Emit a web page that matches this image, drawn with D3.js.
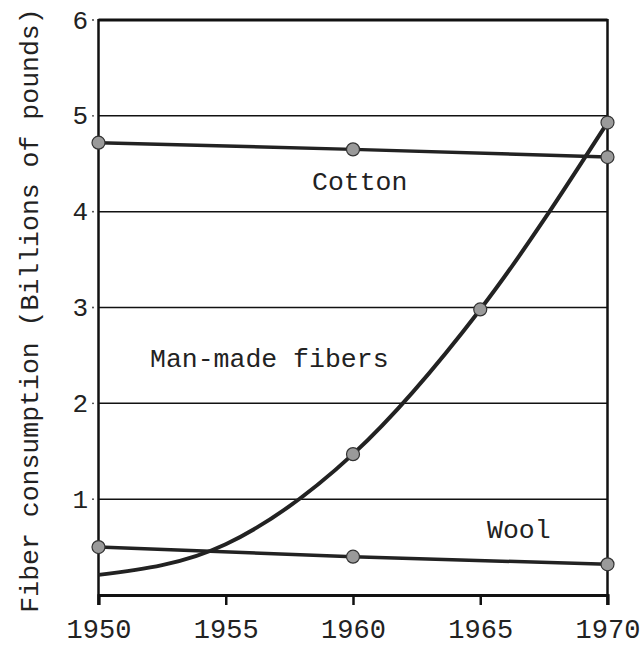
<!DOCTYPE html>
<html>
<head>
<meta charset="utf-8">
<script src="https://cdn.jsdelivr.net/npm/d3@7"></script>
<style>
  body { margin: 0; background: #fff; }
  text { font-family: "Liberation Mono", "DejaVu Sans Mono", monospace; fill: #222; }
</style>
</head>
<body>
<div id="chart"></div>
<script>
// data (billions of pounds)
var years = [1950, 1960, 1970];
var cotton = [4.72, 4.65, 4.57];
var wool = [0.50, 0.40, 0.32];
var manMadeYears = [1950, 1955, 1960, 1965, 1970];
var manMade = [0.21, 0.53, 1.47, 2.98, 4.93];
var manMadeMarked = [1960, 1965, 1970];
var xTicks = [1950, 1955, 1960, 1965, 1970];
var yTicks = [1, 2, 3, 4, 5, 6];

var width = 642,
  height = 652;

var svg = d3.select("#chart")
  .append("svg")
  .attr("width", width)
  .attr("height", height);

var x = d3.scaleLinear().domain([1950, 1970]).range([98.5, 607.5]);
var y = d3.scaleLinear().domain([0, 6]).range([595, 20]);

// horizontal rules
svg.selectAll(".grid")
  .data(yTicks)
  .enter().append("line")
  .attr("class", "grid")
  .attr("x1", x(1950))
  .attr("x2", x(1970))
  .attr("y1", function(d){ return y(d); })
  .attr("y2", function(d){ return y(d); })
  .attr("stroke", "#111")
  .attr("stroke-width", function(d){ return d == 6 ? 3 : 1.5; });

// y tick labels with the little dot
svg.selectAll(".ylab")
  .data(yTicks)
  .enter().append("text")
  .attr("class", "ylab")
  .attr("x", 88)
  .attr("y", function(d){ return y(d); })
  .attr("dy", "0.33em")
  .attr("text-anchor", "end")
  .attr("font-size", 26)
  .text(function(d){ return d; });

svg.selectAll(".ydot")
  .data(yTicks)
  .enter().append("circle")
  .attr("class", "ydot")
  .attr("cx", 93)
  .attr("cy", function(d){ return y(d); })
  .attr("r", 0.9)
  .attr("fill", "#333");

// frame: left, right
svg.append("line")
  .attr("x1", x(1950)).attr("x2", x(1950))
  .attr("y1", y(6) - 1).attr("y2", y(0) + 10)
  .attr("stroke", "#111").attr("stroke-width", 2.5);
svg.append("line")
  .attr("x1", x(1970)).attr("x2", x(1970))
  .attr("y1", y(6) - 1).attr("y2", y(0) + 10)
  .attr("stroke", "#111").attr("stroke-width", 2.5);

// x axis
var xAxis = d3.axisBottom(x)
  .tickValues(xTicks)
  .tickSize(10)
  .tickPadding(14)
  .tickFormat(d3.format("d"));

var gx = svg.append("g")
  .attr("transform", "translate(0," + y(0) + ")")
  .call(xAxis);
gx.select(".domain").attr("stroke", "#111").attr("stroke-width", 3);
gx.selectAll(".tick line").attr("stroke", "#111").attr("stroke-width", 2.5);
gx.selectAll(".tick text")
  .attr("font-size", 27)
  .attr("font-family", "Liberation Mono, monospace")
  .attr("fill", "#222");

// y axis title
svg.append("text")
  .attr("transform", "translate(38," + ((y(0) + 10) / 2 + 8) + ") rotate(-90)")
  .attr("text-anchor", "middle")
  .attr("font-size", 26.5)
  .text("Fiber consumption (Billions of pounds)");

var line = d3.line()
  .x(function(d){ return x(d[0]); })
  .y(function(d){ return y(d[1]); });

var smooth = d3.line()
  .curve(d3.curveMonotoneX)
  .x(function(d){ return x(d[0]); })
  .y(function(d){ return y(d[1]); });

var cottonPts = d3.zip(years, cotton);
var woolPts = d3.zip(years, wool);
var manMadePts = d3.zip(manMadeYears, manMade);

[cottonPts, woolPts].forEach(function(pts){
  svg.append("path")
    .datum(pts)
    .attr("d", line)
    .attr("fill", "none")
    .attr("stroke", "#222")
    .attr("stroke-width", 3.5);
});

svg.append("path")
  .datum(manMadePts)
  .attr("d", smooth)
  .attr("fill", "none")
  .attr("stroke", "#222")
  .attr("stroke-width", 4);

// markers
var markerPts = cottonPts.concat(woolPts)
  .concat(manMadePts.filter(function(d){ return manMadeMarked.indexOf(d[0]) >= 0; }));

svg.selectAll(".pt")
  .data(markerPts)
  .enter().append("circle")
  .attr("class", "pt")
  .attr("cx", function(d){ return x(d[0]); })
  .attr("cy", function(d){ return y(d[1]); })
  .attr("r", 6.5)
  .attr("fill", "#9a9a9a")
  .attr("stroke", "#333")
  .attr("stroke-width", 1.2);

// series labels
svg.append("text").attr("x", 312).attr("y", 190).attr("font-size", 26.5).text("Cotton");
svg.append("text").attr("x", 150).attr("y", 367).attr("font-size", 26.5).text("Man-made fibers");
svg.append("text").attr("x", 487).attr("y", 538).attr("font-size", 26.5).text("Wool");
</script>
</body>
</html>
